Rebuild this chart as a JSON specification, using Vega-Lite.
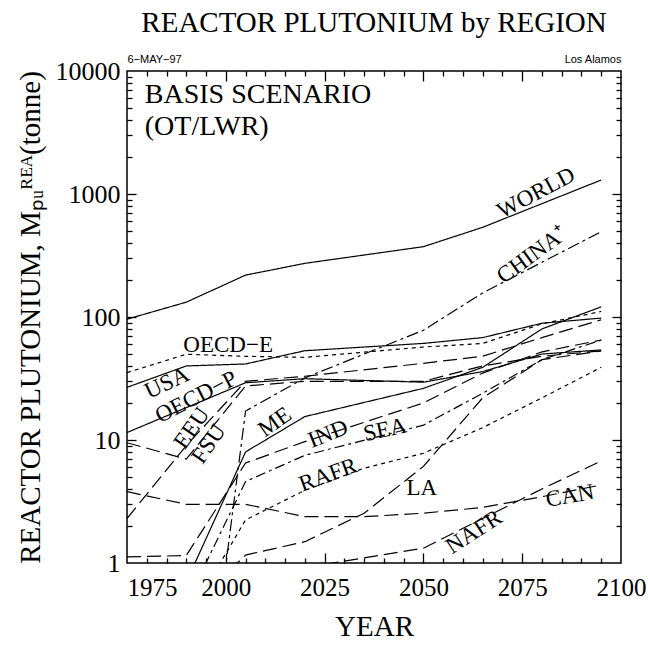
{
  "$schema": "https://vega.github.io/schema/vega-lite/v6.json",
  "width": 494,
  "height": 492,
  "autosize": {"type": "none"},
  "padding": {"left": 127, "top": 71, "right": 27, "bottom": 86},
  "background": "white",
  "config": {"font": "Liberation Serif", "text": {"font": "Liberation Serif"}, "axis": {"labelFont": "Liberation Serif", "titleFont": "Liberation Serif"}, "title": {"font": "Liberation Serif"}},
  "view": {"stroke": "black", "strokeWidth": 1.5},
  "title": {"text": "REACTOR PLUTONIUM by REGION", "font": "Liberation Serif", "fontSize": 29, "fontWeight": "normal", "color": "black", "anchor": "middle", "frame": "group", "offset": 15},
  "datasets": {
    "series": [
      {"r": "WORLD", "year": 1975, "v": 96}, {"r": "WORLD", "year": 1990, "v": 132}, {"r": "WORLD", "year": 2005, "v": 219}, {"r": "WORLD", "year": 2020, "v": 273}, {"r": "WORLD", "year": 2050, "v": 373}, {"r": "WORLD", "year": 2065, "v": 536}, {"r": "WORLD", "year": 2095, "v": 1300},
      {"r": "CHINA", "year": 1990, "v": 0.003}, {"r": "CHINA", "year": 2005, "v": 17.2}, {"r": "CHINA", "year": 2020, "v": 32}, {"r": "CHINA", "year": 2050, "v": 78}, {"r": "CHINA", "year": 2065, "v": 157}, {"r": "CHINA", "year": 2095, "v": 494},
      {"r": "OECD-E", "year": 1975, "v": 35.3}, {"r": "OECD-E", "year": 1990, "v": 49.8}, {"r": "OECD-E", "year": 2005, "v": 47.9}, {"r": "OECD-E", "year": 2020, "v": 47}, {"r": "OECD-E", "year": 2050, "v": 57}, {"r": "OECD-E", "year": 2065, "v": 61}, {"r": "OECD-E", "year": 2080, "v": 88}, {"r": "OECD-E", "year": 2095, "v": 111},
      {"r": "USA", "year": 1975, "v": 26.8}, {"r": "USA", "year": 1990, "v": 40}, {"r": "USA", "year": 2005, "v": 41.5}, {"r": "USA", "year": 2020, "v": 53.2}, {"r": "USA", "year": 2050, "v": 61}, {"r": "USA", "year": 2065, "v": 68}, {"r": "USA", "year": 2080, "v": 89}, {"r": "USA", "year": 2095, "v": 98},
      {"r": "OECD-P", "year": 1975, "v": 11.5}, {"r": "OECD-P", "year": 2005, "v": 29.2}, {"r": "OECD-P", "year": 2020, "v": 31.5}, {"r": "OECD-P", "year": 2050, "v": 29.5}, {"r": "OECD-P", "year": 2065, "v": 36}, {"r": "OECD-P", "year": 2080, "v": 50}, {"r": "OECD-P", "year": 2095, "v": 54},
      {"r": "EEU", "year": 1975, "v": 2.3}, {"r": "EEU", "year": 1990, "v": 9}, {"r": "EEU", "year": 2005, "v": 30}, {"r": "EEU", "year": 2020, "v": 33}, {"r": "EEU", "year": 2050, "v": 42}, {"r": "EEU", "year": 2065, "v": 48}, {"r": "EEU", "year": 2080, "v": 68}, {"r": "EEU", "year": 2095, "v": 95},
      {"r": "FSU", "year": 1975, "v": 9.5}, {"r": "FSU", "year": 1990, "v": 7.0}, {"r": "FSU", "year": 2005, "v": 27.5}, {"r": "FSU", "year": 2020, "v": 30}, {"r": "FSU", "year": 2050, "v": 30}, {"r": "FSU", "year": 2065, "v": 40}, {"r": "FSU", "year": 2080, "v": 48}, {"r": "FSU", "year": 2095, "v": 53},
      {"r": "ME", "year": 1990, "v": 0.7}, {"r": "ME", "year": 2005, "v": 8.0}, {"r": "ME", "year": 2020, "v": 15.5}, {"r": "ME", "year": 2050, "v": 26.3}, {"r": "ME", "year": 2065, "v": 39}, {"r": "ME", "year": 2080, "v": 80}, {"r": "ME", "year": 2095, "v": 121},
      {"r": "IND", "year": 1975, "v": 1.12}, {"r": "IND", "year": 1990, "v": 1.15}, {"r": "IND", "year": 2005, "v": 6.5}, {"r": "IND", "year": 2020, "v": 9.7}, {"r": "IND", "year": 2050, "v": 20}, {"r": "IND", "year": 2065, "v": 35}, {"r": "IND", "year": 2080, "v": 52}, {"r": "IND", "year": 2095, "v": 65},
      {"r": "SEA", "year": 1990, "v": 0.47}, {"r": "SEA", "year": 2005, "v": 4.6}, {"r": "SEA", "year": 2020, "v": 7.5}, {"r": "SEA", "year": 2050, "v": 13.2}, {"r": "SEA", "year": 2065, "v": 24}, {"r": "SEA", "year": 2080, "v": 45}, {"r": "SEA", "year": 2095, "v": 65},
      {"r": "LA", "year": 1990, "v": 0.4}, {"r": "LA", "year": 2005, "v": 1.16}, {"r": "LA", "year": 2020, "v": 1.49}, {"r": "LA", "year": 2035, "v": 2.54}, {"r": "LA", "year": 2050, "v": 6.1}, {"r": "LA", "year": 2065, "v": 22}, {"r": "LA", "year": 2080, "v": 45}, {"r": "LA", "year": 2095, "v": 53},
      {"r": "RAFR", "year": 1990, "v": 0.34}, {"r": "RAFR", "year": 2005, "v": 2.24}, {"r": "RAFR", "year": 2020, "v": 3.9}, {"r": "RAFR", "year": 2035, "v": 5.9}, {"r": "RAFR", "year": 2050, "v": 7.8}, {"r": "RAFR", "year": 2065, "v": 12.6}, {"r": "RAFR", "year": 2080, "v": 22}, {"r": "RAFR", "year": 2095, "v": 39},
      {"r": "NAFR", "year": 2020, "v": 0.92}, {"r": "NAFR", "year": 2035, "v": 1.1}, {"r": "NAFR", "year": 2050, "v": 1.32}, {"r": "NAFR", "year": 2065, "v": 2.3}, {"r": "NAFR", "year": 2080, "v": 4.0}, {"r": "NAFR", "year": 2095, "v": 6.75},
      {"r": "CAN", "year": 1975, "v": 3.8}, {"r": "CAN", "year": 1990, "v": 3.0}, {"r": "CAN", "year": 2005, "v": 3.0}, {"r": "CAN", "year": 2020, "v": 2.38}, {"r": "CAN", "year": 2035, "v": 2.38}, {"r": "CAN", "year": 2050, "v": 2.54}, {"r": "CAN", "year": 2065, "v": 2.83}, {"r": "CAN", "year": 2080, "v": 3.46}, {"r": "CAN", "year": 2095, "v": 4.31}
    ],
    "labels": [
      {"label": "WORLD", "year": 2078.5, "v": 1019},
      {"label": "CHINA⁺", "year": 2077.5, "v": 320},
      {"label": "OECD−E", "year": 2000.6, "v": 59},
      {"label": "USA", "year": 1985.1, "v": 29.1},
      {"label": "OECD−P", "year": 1992.5, "v": 22.4},
      {"label": "EEU", "year": 1991.4, "v": 12.5},
      {"label": "FSU", "year": 1995.7, "v": 9.3},
      {"label": "ME", "year": 2012.4, "v": 14.0},
      {"label": "IND", "year": 2025.9, "v": 11.2},
      {"label": "SEA", "year": 2040.3, "v": 12.1},
      {"label": "RAFR", "year": 2025.9, "v": 5.2},
      {"label": "LA", "year": 2049.6, "v": 4.07},
      {"label": "NAFR", "year": 2062.8, "v": 1.79},
      {"label": "CAN", "year": 2087.1, "v": 3.51}
    ],
    "notes": [
      {"label": "BASIS SCENARIO", "year": 1979.5, "v": 5500},
      {"label": "(OT/LWR)", "year": 1979.5, "v": 3017}
    ]
  },
  "layer": [
    {
      "data": {"name": "series"},
      "mark": {"type": "line", "clip": true, "color": "black", "strokeWidth": 1.2},
      "encoding": {
        "detail": {"field": "r", "type": "nominal"},
        "x": {"field": "year", "type": "quantitative", "scale": {"domain": [1975, 2100], "nice": false, "zero": false},
          "axis": {"orient": "bottom", "values": [1975, 2000, 2025, 2050, 2075, 2100], "format": "d", "ticks": false, "domain": false, "grid": false, "labelFlush": false, "labelOverlap": false, "labelFont": "Liberation Serif", "labelFontSize": 25, "labelColor": "black", "labelPadding": 12,
            "labelAlign": {"condition": {"test": "datum.value === 1975", "value": "left"}, "value": "center"},
            "title": "YEAR", "titleFont": "Liberation Serif", "titleFontSize": 29, "titleFontWeight": "normal", "titleColor": "black", "titlePadding": 12}},
        "y": {"field": "v", "type": "quantitative", "scale": {"type": "log", "domain": [1, 10000], "nice": false},
          "axis": {"orient": "left", "values": [1, 10, 100, 1000, 10000], "format": "d", "ticks": false, "domain": false, "grid": false, "labelFlush": false, "labelOverlap": false, "labelFont": "Liberation Serif", "labelFontSize": 26, "labelColor": "black", "labelPadding": 7,
            "title": "REACTOR PLUTONIUM, Mₚᵤᴿᴱᴬ(tonne)", "titleFont": "Liberation Serif", "titleFontSize": 29, "titleFontWeight": "normal", "titleColor": "black", "titlePadding": 10}},
        "strokeDash": {"field": "r", "type": "nominal", "legend": null,
          "scale": {"domain": ["WORLD", "CHINA", "OECD-E", "USA", "OECD-P", "EEU", "FSU", "ME", "IND", "SEA", "LA", "RAFR", "NAFR", "CAN"],
            "range": [[1, 0], [12, 4, 3, 4], [4, 4], [1, 0], [1, 0], [14, 6], [14, 6], [1, 0], [14, 6], [10, 4, 3, 4], [14, 6], [4, 4], [14, 6], [14, 6]]}}
      }
    },
    {
      "data": {"name": "labels"},
      "mark": {"type": "text", "font": "Liberation Serif", "fontWeight": "normal", "fontSize": 23, "color": "black", "align": "center", "baseline": "middle",
        "angle": {"expr": "[-28, -36, 0, -25, -27, -55, -55, -35, -22, -12, -20, 0, -33, -10][indexof(['WORLD', 'CHINA⁺', 'OECD−E', 'USA', 'OECD−P', 'EEU', 'FSU', 'ME', 'IND', 'SEA', 'RAFR', 'LA', 'NAFR', 'CAN'], datum.label)]"}},
      "encoding": {
        "x": {"field": "year", "type": "quantitative", "scale": {"domain": [1975, 2100], "nice": false, "zero": false},
          "axis": {"orient": "bottom", "values": [2000, 2025, 2050, 2075], "labels": false, "domain": false, "grid": false, "ticks": true, "tickSize": -10, "tickColor": "black", "tickWidth": 1.3, "title": null}},
        "y": {"field": "v", "type": "quantitative", "scale": {"type": "log", "domain": [1, 10000], "nice": false},
          "axis": {"orient": "left", "values": [10, 100, 1000], "labels": false, "domain": false, "grid": false, "ticks": true, "tickSize": -9, "tickColor": "black", "tickWidth": 1.3, "title": null}},
        "text": {"field": "label", "type": "nominal"}
      }
    },
    {
      "data": {"name": "notes"},
      "mark": {"type": "text", "font": "Liberation Serif", "fontWeight": "normal", "fontSize": 28, "color": "black", "align": "left", "baseline": "alphabetic"},
      "encoding": {
        "x": {"field": "year", "type": "quantitative", "scale": {"domain": [1975, 2100], "nice": false, "zero": false},
          "axis": {"orient": "bottom", "values": [1980, 1985, 1990, 1995, 2005, 2010, 2015, 2020, 2030, 2035, 2040, 2045, 2055, 2060, 2065, 2070, 2080, 2085, 2090, 2095], "labels": false, "domain": false, "grid": false, "ticks": true, "tickSize": -5, "tickColor": "black", "tickWidth": 1.3, "title": null}},
        "y": {"field": "v", "type": "quantitative", "scale": {"type": "log", "domain": [1, 10000], "nice": false},
          "axis": {"orient": "left", "values": [2, 3, 4, 5, 6, 7, 8, 9, 20, 30, 40, 50, 60, 70, 80, 90, 200, 300, 400, 500, 600, 700, 800, 900, 2000, 3000, 4000, 5000, 6000, 7000, 8000, 9000], "labels": false, "domain": false, "grid": false, "ticks": true, "tickSize": -5, "tickColor": "black", "tickWidth": 1.3, "title": null}},
        "text": {"field": "label", "type": "nominal"}
      }
    },
    {
      "data": {"name": "notes"},
      "mark": {"type": "point", "opacity": 0},
      "encoding": {
        "x": {"field": "year", "type": "quantitative", "scale": {"domain": [1975, 2100], "nice": false, "zero": false},
          "axis": {"orient": "top", "values": [2000, 2025, 2050, 2075], "labels": false, "domain": false, "grid": false, "ticks": true, "tickSize": -10, "tickColor": "black", "tickWidth": 1.3, "title": null}},
        "y": {"field": "v", "type": "quantitative", "scale": {"type": "log", "domain": [1, 10000], "nice": false},
          "axis": {"orient": "right", "values": [10, 100, 1000], "labels": false, "domain": false, "grid": false, "ticks": true, "tickSize": -9, "tickColor": "black", "tickWidth": 1.3, "title": null}}
      }
    },
    {
      "data": {"name": "notes"},
      "mark": {"type": "point", "opacity": 0},
      "encoding": {
        "x": {"field": "year", "type": "quantitative", "scale": {"domain": [1975, 2100], "nice": false, "zero": false},
          "axis": {"orient": "top", "values": [1980, 1985, 1990, 1995, 2005, 2010, 2015, 2020, 2030, 2035, 2040, 2045, 2055, 2060, 2065, 2070, 2080, 2085, 2090, 2095], "labels": false, "domain": false, "grid": false, "ticks": true, "tickSize": -5, "tickColor": "black", "tickWidth": 1.3, "title": null}},
        "y": {"field": "v", "type": "quantitative", "scale": {"type": "log", "domain": [1, 10000], "nice": false},
          "axis": {"orient": "right", "values": [2, 3, 4, 5, 6, 7, 8, 9, 20, 30, 40, 50, 60, 70, 80, 90, 200, 300, 400, 500, 600, 700, 800, 900, 2000, 3000, 4000, 5000, 6000, 7000, 8000, 9000], "labels": false, "domain": false, "grid": false, "ticks": true, "tickSize": -5, "tickColor": "black", "tickWidth": 1.3, "title": null}}
      }
    },
    {
      "data": {"name": "notes"},
      "mark": {"type": "point", "opacity": 0},
      "encoding": {
        "x": {"field": "year", "type": "quantitative", "scale": {"domain": [1975, 2100], "nice": false, "zero": false},
          "axis": {"orient": "top", "values": [1975, 2100], "labelExpr": "datum.value === 1975 ? '6−MAY−97' : 'Los Alamos'", "labelFlush": true, "labelOverlap": false, "labelFont": "Liberation Sans", "labelFontSize": 11, "labelColor": "black", "labelPadding": 7, "ticks": false, "domain": false, "grid": false, "title": null}},
        "y": {"field": "v", "type": "quantitative", "scale": {"type": "log", "domain": [1, 10000], "nice": false}, "axis": null}
      }
    }
  ],
  "resolve": {"axis": {"x": "independent", "y": "independent"}}
}
